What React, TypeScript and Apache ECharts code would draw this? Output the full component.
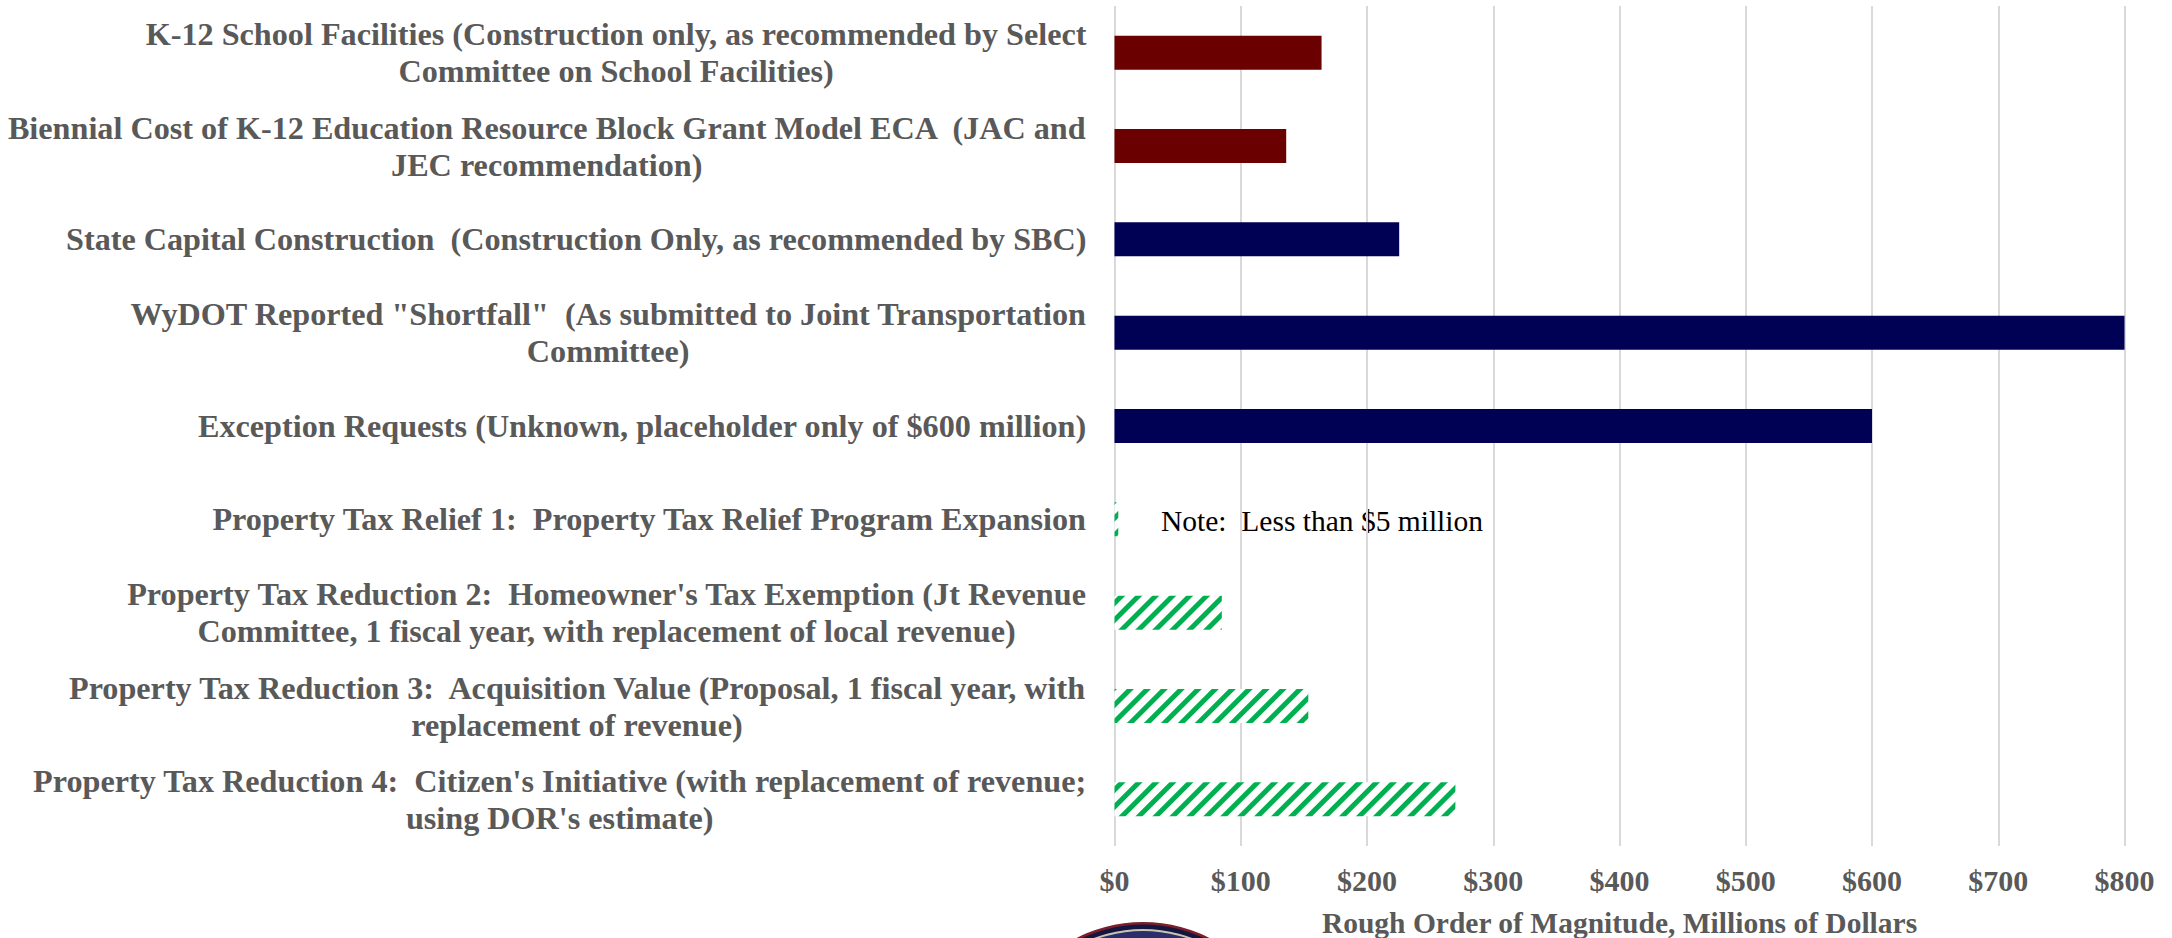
import React, { useEffect, useRef } from "react";
import * as echarts from "echarts";

const categories = [
  "K-12 School Facilities (Construction only, as recommended by Select\nCommittee on School Facilities)",
  "Biennial Cost of K-12 Education Resource Block Grant Model ECA  (JAC and\nJEC recommendation)",
  "State Capital Construction  (Construction Only, as recommended by SBC)",
  "WyDOT Reported \"Shortfall\"  (As submitted to Joint Transportation\nCommittee)",
  "Exception Requests (Unknown, placeholder only of $600 million)",
  "Property Tax Relief 1:  Property Tax Relief Program Expansion",
  "Property Tax Reduction 2:  Homeowner's Tax Exemption (Jt Revenue\nCommittee, 1 fiscal year, with replacement of local revenue)",
  "Property Tax Reduction 3:  Acquisition Value (Proposal, 1 fiscal year, with\nreplacement of revenue)",
  "Property Tax Reduction 4:  Citizen's Initiative (with replacement of revenue;\nusing DOR's estimate)",
];
const values = [164, 136, 225.5, 800, 600, 3, 85, 153.5, 270];
const kinds = ["red", "red", "navy", "navy", "navy", "hatch", "hatch", "hatch", "hatch"];
const axisTitle = "Rough Order of Magnitude, Millions of Dollars";
const noteText = "Note:  Less than $5 million";

const FONT = "'Liberation Serif', 'Times New Roman', serif";
const GREY = "#595959";

export default function App() {
  const ref = useRef<HTMLDivElement>(null);
  useEffect(() => {
    const chart = echarts.init(ref.current!, undefined, { renderer: "svg" });
    const styleFor = (k: string) => {
      if (k === "red") return { color: "#6B0000" };
      if (k === "navy") return { color: "#000055" };
      return {
        color: "#ffffff",
        decal: {
          symbol: "rect",
          symbolSize: 1,
          dashArrayX: [1, 0],
          dashArrayY: [5, 6.3],
          rotation: -Math.PI / 4,
          color: "#00B050",
          backgroundColor: "#ffffff",
        },
      };
    };
    chart.setOption({
      animation: false,
      backgroundColor: "#ffffff",
      grid: { left: 1114.5, top: 6, width: 1010, height: 840, containLabel: false, outerBoundsMode: "none" },
      xAxis: {
        type: "value",
        min: 0,
        max: 800,
        interval: 100,
        position: "bottom",
        axisLine: { show: false },
        axisTick: { show: false },
        splitLine: { show: true, lineStyle: { color: "#D9D9D9", width: 2 } },
        axisLabel: {
          formatter: (v: number) => "$" + v,
          color: GREY,
          fontFamily: FONT,
          fontWeight: "bold",
          fontSize: 30,
          margin: 19,
        },
        name: axisTitle,
        nameLocation: "middle",
        nameGap: 62,
        nameTextStyle: { color: GREY, fontFamily: FONT, fontWeight: "bold", fontSize: 29.5 },
      },
      yAxis: {
        type: "category",
        inverse: true,
        data: categories,
        axisLine: { show: false },
        axisTick: { show: false },
        axisLabel: {
          formatter: (v: string) => v.split("\n").map((l) => `{a|${l}}`).join("\n"),
          margin: 28,
          align: "right",
          rich: {
            a: {
              color: GREY,
              fontFamily: FONT,
              fontWeight: "bold",
              fontSize: 32.2,
              lineHeight: 37,
              align: "center",
            },
          },
        },
      },
      series: [
        {
          type: "bar",
          barWidth: 34,
          data: values.map((v, i) => ({ value: v, itemStyle: styleFor(kinds[i]) })),
        },
      ],
      graphic: [
        {
          type: "text",
          x: 1161,
          y: 521,
          style: { text: noteText, fill: "#000000", font: `29.5px ${FONT}`, textVerticalAlign: "middle" },
        },
        {
          type: "group",
          silent: true,
          children: [
            { type: "circle", shape: { cx: 1143, cy: 1068, r: 146 }, style: { fill: "#7A1F2B" } },
            { type: "circle", shape: { cx: 1143, cy: 1068, r: 143.5 }, style: { fill: "#14163F" } },
            { type: "circle", shape: { cx: 1143, cy: 1068, r: 139 }, style: { fill: "#C9C3B4" } },
            { type: "circle", shape: { cx: 1143, cy: 1068, r: 137 }, style: { fill: "#2A2F6B" } },
          ],
        },
      ],
    });
    return () => chart.dispose();
  }, []);
  return <div ref={ref} style={{ position: "fixed", left: 0, top: 0, width: 2172, height: 938 }} />;
}
